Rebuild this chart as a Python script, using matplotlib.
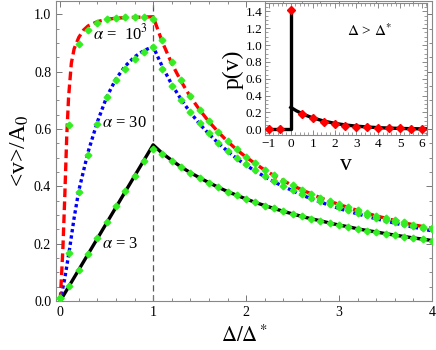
import matplotlib
matplotlib.use("Agg")
import matplotlib.pyplot as plt
from matplotlib.ticker import MultipleLocator, FormatStrFormatter

plt.rcParams['font.family'] = ['Liberation Serif', 'DejaVu Serif']
plt.rcParams['mathtext.fontset'] = 'stix'

# ---------------- main panel data ----------------
decay_x = [1.1, 1.2, 1.3, 1.4, 1.5, 1.6, 1.7, 1.8, 1.9, 2.0,
           2.1, 2.2, 2.3, 2.4, 2.5, 2.6, 2.7, 2.8, 2.9, 3.0,
           3.1, 3.2, 3.3, 3.4, 3.5, 3.6, 3.7, 3.8, 3.9, 4.0]

# alpha = 10^3 (red dashed)
a1000_x = [0, 0.015, 0.03, 0.05, 0.07, 0.09, 0.12, 0.15, 0.2, 0.25, 0.3,
           0.4, 0.5, 0.6, 0.7, 0.8, 0.9, 1.0] + decay_x
a1000_y = [0, 0.09, 0.19, 0.37, 0.57, 0.71, 0.83, 0.88, 0.92, 0.945, 0.96,
           0.975, 0.983, 0.987, 0.989, 0.99, 0.991, 0.992,
           0.903, 0.829, 0.767, 0.713, 0.667, 0.626, 0.590, 0.557, 0.528, 0.502,
           0.479, 0.457, 0.438, 0.420, 0.403, 0.388, 0.374, 0.360, 0.348, 0.337,
           0.326, 0.316, 0.306, 0.297, 0.289, 0.281, 0.273, 0.266, 0.260, 0.253]

# alpha = 30 (blue dotted)
a30_x = [0, 0.05, 0.1, 0.15, 0.2, 0.3, 0.4, 0.5, 0.6, 0.7, 0.8, 0.9, 1.0] + decay_x
a30_y = [0, 0.08, 0.18, 0.29, 0.385, 0.52, 0.625, 0.712, 0.775, 0.82, 0.852, 0.874, 0.888,
         0.817, 0.756, 0.704, 0.658, 0.618, 0.583, 0.551, 0.523, 0.497, 0.474,
         0.453, 0.434, 0.416, 0.400, 0.385, 0.370, 0.357, 0.345, 0.334, 0.323,
         0.313, 0.304, 0.295, 0.287, 0.279, 0.272, 0.264, 0.258, 0.251, 0.245]

# alpha = 3 (black solid)
a3_x = [0, 1.0] + decay_x
a3_y = [0, 0.545,
        0.515, 0.491, 0.468, 0.448, 0.430, 0.413, 0.397, 0.382, 0.369, 0.356,
        0.344, 0.333, 0.323, 0.313, 0.304, 0.295, 0.287, 0.280, 0.272, 0.265,
        0.259, 0.252, 0.246, 0.241, 0.235, 0.230, 0.225, 0.220, 0.216, 0.211]

# simulation points (green)
sim_x = [0.0, 0.1, 0.2, 0.3, 0.4, 0.5, 0.6, 0.7, 0.8, 0.9, 1.0,
         1.1, 1.2, 1.3, 1.4, 1.5, 1.6, 1.7, 1.8, 1.9, 2.0,
         2.1, 2.2, 2.3, 2.4, 2.5, 2.6, 2.7, 2.8, 2.9, 3.0,
         3.1, 3.2, 3.3, 3.4, 3.5, 3.6, 3.7, 3.8, 3.9, 4.0]
sim_a3 = [0.01, 0.052, 0.108, 0.165, 0.22, 0.275, 0.33, 0.383, 0.437, 0.49, 0.53,
          0.512, 0.49, 0.467, 0.447, 0.43, 0.412, 0.397, 0.382, 0.369, 0.356,
          0.344, 0.333, 0.323, 0.313, 0.304, 0.295, 0.287, 0.28, 0.272, 0.266,
          0.259, 0.252, 0.246, 0.241, 0.235, 0.23, 0.225, 0.22, 0.216, 0.211]
sim_a30 = [0.01, 0.168, 0.381, 0.509, 0.619, 0.712, 0.77, 0.81, 0.845, 0.87, 0.886,
           0.81, 0.752, 0.7, 0.66, 0.62, 0.585, 0.553, 0.525, 0.5, 0.478,
           0.456, 0.437, 0.42, 0.403, 0.388, 0.374, 0.361, 0.349, 0.338, 0.327,
           0.317, 0.308, 0.3, 0.291, 0.283, 0.276, 0.268, 0.262, 0.256, 0.25]
sim_a1000 = [0.01, 0.614, 0.898, 0.945, 0.97, 0.983, 0.986, 0.99, 0.99, 0.99, 0.985,
             0.91, 0.835, 0.77, 0.715, 0.668, 0.628, 0.59, 0.558, 0.53, 0.503,
             0.48, 0.458, 0.438, 0.42, 0.404, 0.389, 0.374, 0.361, 0.349, 0.337,
             0.327, 0.316, 0.307, 0.298, 0.289, 0.281, 0.274, 0.266, 0.26, 0.254]

# ---------------- inset data ----------------
pv_left_x = [-1.2, 0.0, 0.0]
pv_left_y = [0.0, 0.0, 1.42]
pv_curve_x = [0.0, 0.25, 0.5, 0.75, 1.0, 1.5, 2.0, 2.5, 3.0, 3.5, 4.0, 4.5, 5.0, 5.5, 6.0, 6.23]
pv_curve_y = [0.26, 0.22, 0.188, 0.16, 0.136, 0.098, 0.071, 0.051, 0.037, 0.027,
              0.019, 0.014, 0.010, 0.007, 0.005, 0.005]
pv_pts_x = [-1, -0.5, 0, 0.5, 1, 1.5, 2, 2.5, 3, 3.5, 4, 4.5, 5, 5.5, 6]
pv_pts_y = [0.0, 0.0, 1.42, 0.182, 0.131, 0.09, 0.063, 0.044, 0.032, 0.022,
            0.016, 0.012, 0.01, 0.008, 0.006]
inset_xticks = [-1, 0, 1, 2, 3, 4, 5, 6]
inset_xticklabels = ['\u22121', '0', '1', '2', '3', '4', '5', '6']

green = '#33ee22'

fig = plt.figure(figsize=(4.36, 3.5), dpi=100)
ax = fig.add_axes([56/436, 49/350, 376/436, 300/350])

ax.axvline(1.0, color='#555555', lw=0.9, ls=(0, (5, 3)), zorder=1)
ax.plot(a3_x, a3_y, color='black', lw=2.4, solid_capstyle='butt', zorder=2)
ax.plot(a30_x, a30_y, color='#0000ff', lw=2.4, ls=(0, (1, 0.9)), dash_capstyle='butt', zorder=2)
ax.plot(a1000_x, a1000_y, color='#ff0000', lw=2.4, ls=(0, (2.6, 1.3)), dash_capstyle='butt', zorder=2)
for sy in (sim_a3, sim_a30, sim_a1000):
    ax.plot(sim_x, sy, ls='none', marker='D', ms=3.4, color=green, mec=green, zorder=3)

ax.set_xlim(-0.045, 4.0)
ax.set_ylim(0.0, 1.047)
ax.xaxis.set_major_locator(MultipleLocator(1))
ax.xaxis.set_minor_locator(MultipleLocator(0.2))
ax.yaxis.set_major_locator(MultipleLocator(0.2))
ax.yaxis.set_minor_locator(MultipleLocator(0.05))
ax.yaxis.set_major_formatter(FormatStrFormatter('%.1f'))
ax.tick_params(which='both', direction='in', top=True, right=True, labelsize=10, color='#777777')
ax.tick_params(which='major', length=4.5, width=0.7)
ax.tick_params(which='minor', length=2.5, width=0.6)
for s in ax.spines.values():
    s.set_color('#888888')
    s.set_linewidth(0.8)

ax.set_xlabel(r'$\Delta/\Delta^*$', fontsize=15, labelpad=5)
ax.set_ylabel(r'<v>/A$_0$', fontsize=17, labelpad=2)

ax.text(0.645, 0.934, r'$\alpha$ =  10$^3$', fontsize=12, ha='center', va='center')
ax.text(0.69, 0.622, r'$\alpha$ = 30', fontsize=12, ha='center', va='center')
ax.text(0.645, 0.199, r'$\alpha$ = 3', fontsize=12, ha='center', va='center')

# ---------------- inset ----------------
ins = fig.add_axes([265/436, (350-135)/350, 162/436, 132/350])
ins.plot(pv_left_x, pv_left_y, color='black', lw=2.4, zorder=2)
ins.plot(pv_curve_x, pv_curve_y, color='black', lw=2.4, zorder=2)
ins.plot(pv_pts_x, pv_pts_y, ls='none', marker='D', ms=4.4, color='#ff0000', zorder=3)
ins.set_xlim(-1.18, 6.23)
ins.set_ylim(-0.068, 1.5)
ins.xaxis.set_minor_locator(MultipleLocator(0.2))
ins.yaxis.set_major_locator(MultipleLocator(0.2))
ins.yaxis.set_minor_locator(MultipleLocator(0.05))
ins.yaxis.set_major_formatter(FormatStrFormatter('%.1f'))
ins.set_xticks(inset_xticks)
ins.set_xticklabels(inset_xticklabels)
ins.tick_params(which='both', direction='in', top=True, right=True, labelsize=9.5, color='#777777', pad=2)
ins.tick_params(which='major', length=3.5, width=0.6)
ins.tick_params(which='minor', length=2, width=0.5)
for s in ins.spines.values():
    s.set_color('#888888')
    s.set_linewidth(0.8)
ins.set_xlabel('v', fontsize=17, labelpad=3)
ins.set_ylabel('p(v)', fontsize=17, labelpad=1)
ins.text(3.6, 1.17, r'$\Delta$ > $\Delta^{*}$', fontsize=11, ha='center', va='center')

fig.savefig('out.png', dpi=100)
